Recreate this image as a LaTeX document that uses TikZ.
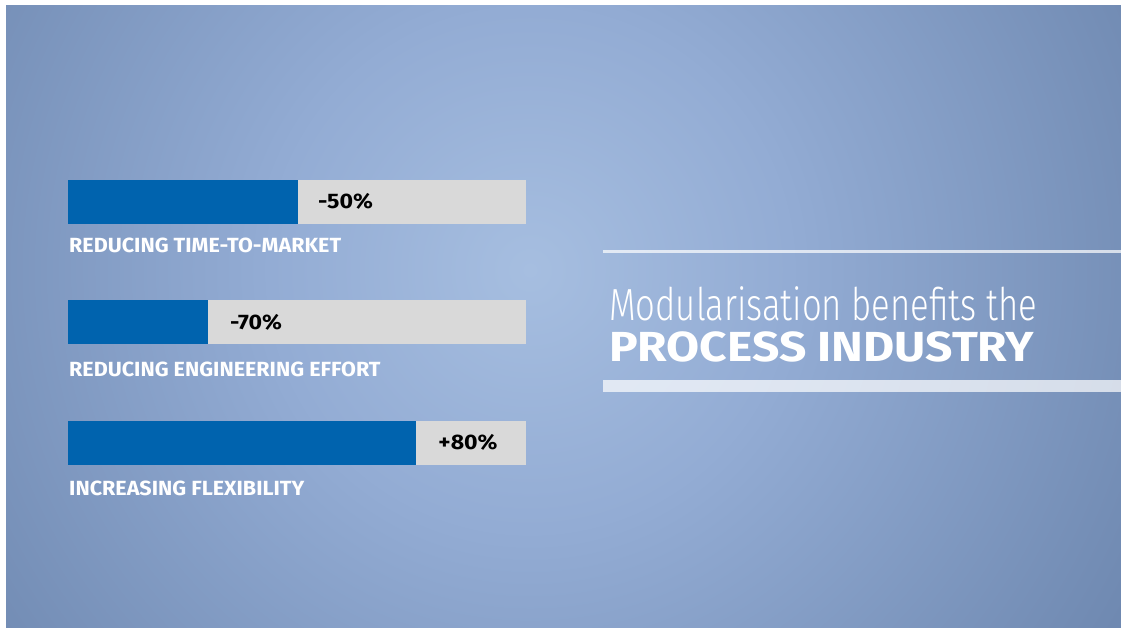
\documentclass[tikz,border=0pt]{standalone}
\usepackage{fontspec}
\setmainfont{Fira Sans}
\newfontfamily\lightfont{Fira Sans Light}[FakeStretch=0.77]
\newfontfamily\lblfont{Fira Sans}[FakeStretch=1.05]
\newfontfamily\pctfont{Fira Sans}[FakeStretch=1.1]
\newfontfamily\headfont{Fira Sans}[FakeStretch=1.14]
\definecolor{bgc}{HTML}{A6BEE0}
\definecolor{bgm}{HTML}{93ACD4}
\definecolor{bge}{HTML}{6C86AE}
\definecolor{barblue}{HTML}{0063AE}
\definecolor{bargray}{HTML}{D9D9D9}
\pgfdeclareradialshading{bgshade}{\pgfpoint{0bp}{0bp}}{color(0bp)=(bgc); color(9bp)=(bgm); color(25bp)=(bge); color(50bp)=(bge)}
\tikzset{
  graybar/.style={fill=bargray, draw=none, minimum height=44pt, inner sep=0pt, anchor=north west, outer sep=0pt},
  bluebar/.style={fill=barblue, draw=none, minimum height=44pt, inner sep=0pt, anchor=north west, outer sep=0pt},
  pct/.style={font=\pctfont\bfseries\fontsize{21}{21}\selectfont, text=black, inner sep=0pt, anchor=base},
  lbl/.style={font=\lblfont\bfseries\fontsize{20.5}{20.5}\selectfont, text=white, inner sep=0pt, anchor=base west},
  rule/.style={fill=white, fill opacity=0.7, draw=none}
}
\begin{document}
\begin{tikzpicture}[x=1pt,y=-1pt]
\useasboundingbox (0,0) rectangle (1121,628);
\fill[white] (0,0) rectangle (1121,628);
\begin{scope}
\clip (6,6) rectangle (1121,628);
\shade[shading=bgshade] (530,270) circle (720pt);
\end{scope}
% bars
\node[graybar, minimum width=458pt] (bar1) at (68,180) {};
\node[bluebar, minimum width=230pt] (fill1) at (bar1.north west) {};
\node[pct] (p1) at (345.5,209) {-50\%};
\node[lbl] (l1) at (69,253) {REDUCING TIME-TO-MARKET};
\node[graybar, minimum width=458pt] (bar2) at (68,300) {};
\node[bluebar, minimum width=140pt] (fill2) at (bar2.north west) {};
\node[pct] (p2) at (256,329) {-70\%};
\node[lbl] (l2) at (69,376) {REDUCING ENGINEERING EFFORT};
\node[graybar, minimum width=458pt] (bar3) at (68,421) {};
\node[bluebar, minimum width=348pt] (fill3) at (bar3.north west) {};
\node[pct] (p3) at (468,449) {+80\%};
\node[lbl] (l3) at (69,495) {INCREASING FLEXIBILITY};
% title
\fill[rule] (603,250) rectangle (1121,253);
\fill[rule] (603,380) rectangle (1121,392);
\node[anchor=base west, inner sep=0pt, text=white, font=\lightfont\fontsize{45}{45}\selectfont] (t1) at (609,320) {Modularisation benefits the};
\node[anchor=base west, inner sep=0pt, text=white, font=\headfont\bfseries\fontsize{42}{42}\selectfont] (t2) at (609,361) {PROCESS INDUSTRY};
\end{tikzpicture}
\end{document}
